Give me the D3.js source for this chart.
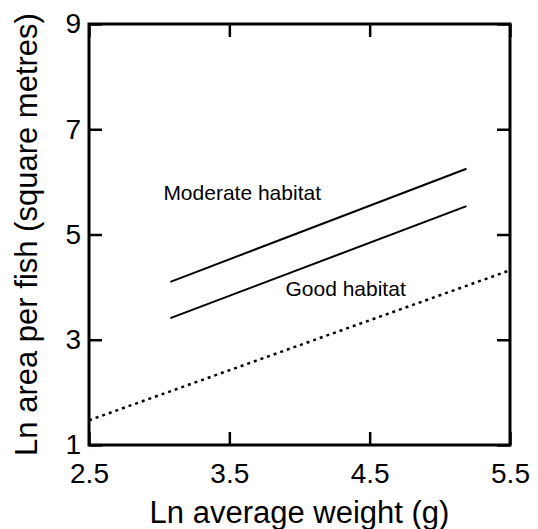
<!DOCTYPE html>
<html>
<head>
<meta charset="utf-8">
<script src="https://cdn.jsdelivr.net/npm/d3@7"></script>
<style>
  body { margin: 0; background: #fff; }
  svg { display: block; font-family: "Liberation Sans", Arial, sans-serif; }
</style>
</head>
<body>
<script>
// values
var xTicks = [2.5, 3.5, 4.5, 5.5];
var yTicks = [1, 3, 5, 7, 9];
var lineNames = ["Moderate habitat", "Good habitat", "reference"];
var lineX = [[3.08, 5.19], [3.08, 5.19], [2.5, 5.5]];
var lineY = [[4.10, 6.25], [3.41, 5.54], [1.47, 4.32]];
var labelAt = [[3.03, 5.66], [3.90, 3.84]];

var svgWidth = 538, svgHeight = 529;
var margin = {top: 24, right: 28, bottom: 84, left: 89};

var svg = d3.select("body").append("svg")
    .attr("width", svgWidth)
    .attr("height", svgHeight);

var x = d3.scaleLinear()
    .domain([2.5, 5.5])
    .range([margin.left, svgWidth - margin.right]);
var y = d3.scaleLinear()
    .domain([1, 9])
    .range([svgHeight - margin.bottom, margin.top]);

// ticks go inward on every side
function styleAxis(g) {
  g.attr("font-family", null).attr("font-size", null);
  g.select(".domain").remove();
  g.selectAll(".tick line").attr("stroke", "#000").attr("stroke-width", 2.5);
  g.selectAll(".tick text").attr("fill", "#000").attr("font-size", "28px");
}

svg.append("g")
    .attr("transform", "translate(0," + y(1) + ")")
    .call(d3.axisBottom(x).tickValues(xTicks).tickSize(-13).tickPadding(18)
      .tickFormat(d3.format(".1f")))
    .call(styleAxis);
svg.append("g")
    .attr("transform", "translate(0," + y(9) + ")")
    .call(d3.axisTop(x).tickValues(xTicks).tickSize(-13).tickFormat(""))
    .call(styleAxis);
svg.append("g")
    .attr("transform", "translate(" + x(2.5) + ",0)")
    .call(d3.axisLeft(y).tickValues(yTicks).tickSize(-13).tickPadding(8)
      .tickFormat(d3.format("d")))
    .call(styleAxis);
svg.append("g")
    .attr("transform", "translate(" + x(5.5) + ",0)")
    .call(d3.axisRight(y).tickValues(yTicks).tickSize(-13).tickFormat(""))
    .call(styleAxis);

// frame
svg.append("rect")
    .attr("x", x(2.5))
    .attr("y", y(9))
    .attr("width", x(5.5) - x(2.5))
    .attr("height", y(1) - y(9))
    .attr("fill", "none")
    .attr("stroke", "#000")
    .attr("stroke-width", 3);

var line = d3.line()
    .x(function(d) { return x(d[0]); })
    .y(function(d) { return y(d[1]); });

svg.append("g").selectAll("path")
  .data(lineNames)
  .enter().append("path")
    .attr("d", function(d, i) { return line(d3.zip(lineX[i], lineY[i])); })
    .attr("fill", "none")
    .attr("stroke", "#000")
    .attr("stroke-width", function(d, i) { return i == 2 ? 2.5 : 2; })
    .attr("stroke-dasharray", function(d, i) { return i == 2 ? "3,4" : null; });

svg.append("g").selectAll("text")
  .data(labelAt)
  .enter().append("text")
    .attr("x", function(d) { return x(d[0]); })
    .attr("y", function(d) { return y(d[1]); })
    .attr("font-size", "21px")
    .text(function(d, i) { return lineNames[i]; });

// axis titles
svg.append("text")
    .attr("x", (x(2.5) + x(5.5)) / 2)
    .attr("y", 523)
    .attr("text-anchor", "middle")
    .attr("font-size", "31px")
    .text("Ln average weight (g)");
svg.append("text")
    .attr("transform", "translate(37," + (y(1) + y(9)) / 2 + ") rotate(-90)")
    .attr("text-anchor", "middle")
    .attr("font-size", "31px")
    .text("Ln area per fish (square metres)");
</script>
</body>
</html>
